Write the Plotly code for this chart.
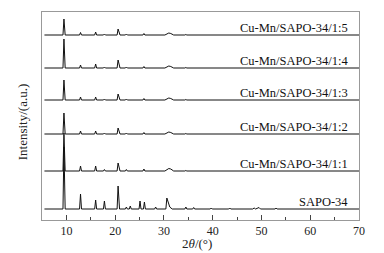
import plotly.graph_objects as go

# ---- data ----
series_names = ["SAPO-34", "Cu-Mn/SAPO-34/1:1", "Cu-Mn/SAPO-34/1:2",
                "Cu-Mn/SAPO-34/1:3", "Cu-Mn/SAPO-34/1:4", "Cu-Mn/SAPO-34/1:5"]
offsets = [11, 49, 86, 120, 152, 185]

sapo_2theta = [5.5, 9.3, 9.5, 9.75, 12.7, 12.9, 13.1, 15.8, 16.0, 16.2, 17.6, 17.8, 18.0,
               20.4, 20.6, 20.9, 22.1, 22.3, 22.5, 22.9, 23.1, 23.3, 24.9, 25.1, 25.3,
               25.8, 26.0, 26.2, 28.1, 28.3, 28.5, 30.4, 30.6, 30.9, 31.2, 31.7, 34.3,
               34.5, 34.7, 35.9, 36.1, 36.3, 39.5, 39.7, 39.9, 43.3, 43.5, 43.7, 48.2,
               48.5, 48.8, 49.5, 49.8, 52.8, 53.0, 53.2, 70.0]
sapo_int = [0, 0, 62, 0, 0, 15, 0, 0, 9, 0, 0, 8, 0,
            0, 23, 0, 0, 2, 0, 0, 3, 0, 0, 8, 0,
            0, 7, 0, 0, 2, 0, 0, 11, 5, 2, 0, 0,
            2, 0, 0, 1.5, 0, 0, 1, 0, 0, 1, 0, 0,
            1, 0, 1.5, 0, 0, 1, 0, 0]

cumn_2theta = [5.5, 9.3, 9.5, 9.75, 12.7, 12.9, 13.1, 15.8, 16.0, 16.2, 17.6, 17.8, 18.0,
               20.4, 20.6, 21.0, 22.1, 22.3, 22.5, 25.7, 25.9, 26.1, 30.2, 30.7,
               31.0, 31.4, 32.0, 34.3, 34.5, 34.7, 70.0]
int_1_1 = [0, 0, 38, 0, 0, 5, 0, 0, 5, 0, 0, 1.5, 0, 0, 8, 0, 0, 1.5, 0, 0, 2, 0, 0, 2, 2.5, 2, 0, 0, 0.5, 0, 0]
int_1_2 = [0, 0, 21, 0, 0, 3, 0, 0, 3, 0, 0, 1, 0, 0, 6, 0, 0, 1, 0, 0, 1.5, 0, 0, 1.5, 2, 1.5, 0, 0, 0.5, 0, 0]
int_1_3 = [0, 0, 20, 0, 0, 3, 0, 0, 3, 0, 0, 1, 0, 0, 6, 0, 0, 1, 0, 0, 1.5, 0, 0, 1.5, 2, 1.5, 0, 0, 0.5, 0, 0]
int_1_4 = [0, 0, 29, 0, 0, 3, 0, 0, 4, 0, 0, 1, 0, 0, 8, 0, 0, 1, 0, 0, 1.5, 0, 0, 1.5, 2, 1.5, 0, 0, 0.5, 0, 0]
int_1_5 = [0, 0, 16, 0, 0, 2.5, 0, 0, 3, 0, 0, 1, 0, 0, 6, 0, 0, 1, 0, 0, 1.5, 0, 0, 1.5, 2, 1.5, 0, 0, 0.5, 0, 0]

x_ticks = [10, 20, 30, 40, 50, 60, 70]

# ---- figure ----
xs = [sapo_2theta] + [cumn_2theta] * 5
ys = [sapo_int, int_1_1, int_1_2, int_1_3, int_1_4, int_1_5]

fig = go.Figure()
serif = "Liberation Serif, Times New Roman, serif"
for name, x, y, off in zip(series_names, xs, ys, offsets):
    fig.add_trace(go.Scatter(x=x, y=[v + off for v in y], mode="lines", name=name,
                             line=dict(color="#111", width=1), showlegend=False))
    fig.add_annotation(x=68.2, y=off + 7, xref="x", yref="y", text=name,
                       showarrow=False, xanchor="right", yanchor="middle",
                       font=dict(family=serif, size=12.5, color="#111"))

fig.update_xaxes(range=[5, 70], tickvals=x_ticks, ticks="inside", ticklen=5,
                 tickcolor="#444", showline=True, linecolor="#999", linewidth=1,
                 mirror=True, showgrid=False, zeroline=False,
                 tickfont=dict(family=serif, size=12, color="#222"),
                 minor=dict(ticks="inside", ticklen=3, tickvals=[15, 25, 35, 45, 55, 65],
                            tickcolor="#444", showgrid=False))
fig.update_yaxes(range=[0, 208], showticklabels=False, ticks="", showline=True,
                 linecolor="#999", linewidth=1, mirror=True, showgrid=False, zeroline=False)

fig.add_annotation(x=-0.063, y=0.47, xref="paper", yref="paper", text="Intensity/(a.u.)",
                   showarrow=False, textangle=-90, xanchor="center", yanchor="middle",
                   font=dict(family=serif, size=13, color="#222"))
fig.add_annotation(x=0.49, y=-0.113, xref="paper", yref="paper", text="2<i>θ</i>/(°)",
                   showarrow=False, xanchor="center", yanchor="middle",
                   font=dict(family=serif, size=13, color="#222"))

fig.update_layout(width=384, height=253, margin=dict(l=42, r=25, t=12, b=33),
                  plot_bgcolor="white", paper_bgcolor="white")
fig.write_html("out.html", config={"displayModeBar": False},
               post_script="document.body.style.margin='0';document.body.style.padding='0';")
